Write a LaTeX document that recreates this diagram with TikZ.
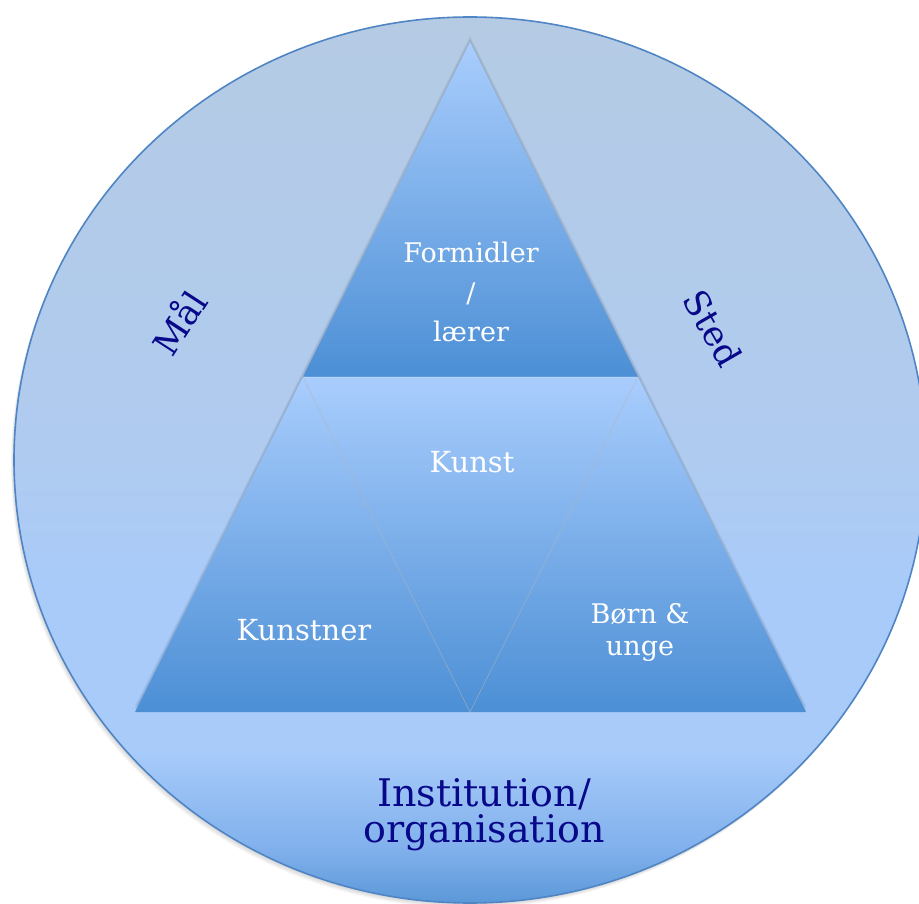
\documentclass[tikz,border=0pt]{standalone}
\usepackage{fontspec}
\setmainfont{DejaVu Serif}
\definecolor{ringtop}{RGB}{181, 203, 228}
\definecolor{ringside}{RGB}{175, 203, 240}
\definecolor{ringmid}{RGB}{168, 203, 250}
\definecolor{ringlow}{RGB}{128, 176, 236}
\definecolor{ringbot}{RGB}{91, 152, 216}
\definecolor{ringedge}{RGB}{79, 133, 196}
\definecolor{tritop}{RGB}{169, 205, 253}
\definecolor{tribot}{RGB}{76, 143, 213}
\definecolor{navy}{RGB}{8, 8, 138}
\pgfdeclareverticalshading{ring}{100bp}{color(0bp)=(ringbot); color(25bp)=(ringbot);
  color(28bp)=(ringlow); color(33.6bp)=(ringmid); color(42bp)=(ringmid);
  color(50bp)=(ringside); color(75bp)=(ringtop); color(100bp)=(ringtop)}

\begin{document}
\begin{tikzpicture}[x=1pt, y=-1pt,
  tri/.style={top color=tritop, bottom color=tribot},
  seam/.style={draw=white, draw opacity=0.35, line width=0.8pt},
  inner/.style={text=white, font=\fontsize{27}{39.5}\selectfont, align=center, inner sep=0pt},
  outer/.style={text=navy, font=\fontsize{35}{36}\selectfont, inner sep=0pt}]
  \useasboundingbox (0, 0) rectangle (919, 904);
  \coordinate (C) at (470, 460);
  \coordinate (A) at (470, 42);
  \coordinate (BL) at (135, 712);
  \coordinate (BR) at (806, 712);
  \coordinate (ML) at (303, 377);
  \coordinate (MR) at (638, 377);
  \coordinate (MB) at (470, 712);
  \foreach \s in {1, ..., 5}
    \fill[black, opacity=0.035] ([shift={(-0.6*\s, \s)}]C) ellipse [x radius=456, y radius=443];
  \shade[shading=ring] (C) ellipse [x radius=456, y radius=443];
  \draw[color=ringedge, line width=1.6pt] (C) ellipse [x radius=456, y radius=443];
  \foreach \s in {2, 4, 6}
    \fill[black, opacity=0.05] ([yshift=\s]BL) -- ([yshift=\s]BR) -- ([yshift=\s]MR) -- ([yshift=\s]A) -- ([yshift=\s]ML) -- cycle;
  \shade[tri] (A) -- (MR) -- (ML) -- cycle;
  \shade[tri] (ML) -- (MB) -- (BL) -- cycle;
  \shade[tri] (MR) -- (BR) -- (MB) -- cycle;
  \shade[tri] (ML) -- (MR) -- (MB) -- cycle;
  \draw[seam] (ML) -- (MR) -- (MB) -- cycle;
  \draw[black, opacity=0.12, line width=0.8pt] (ML) -- (MB) -- (MR);
  \node[inner] (formidler) at (471, 292) {Formidler\\/\\lærer};
  \node[inner, font=\fontsize{29}{32}\selectfont] (kunst) at (472, 462) {Kunst};
  \node[inner, font=\fontsize{29}{32}\selectfont] (kunstner) at (304, 630) {Kunstner};
  \node[inner, font=\fontsize{27}{32}\selectfont] (born) at (640, 632) {Børn \&\\unge};
  \node[outer, rotate=57] (maal) at (178, 322) {Mål};
  \node[outer, rotate=-60] (sted) at (713, 328) {Sted};
  \node[outer, font=\fontsize{38}{36}\selectfont, align=center] (inst) at (484, 815) {Institution/\\organisation};
\end{tikzpicture}
\end{document}
